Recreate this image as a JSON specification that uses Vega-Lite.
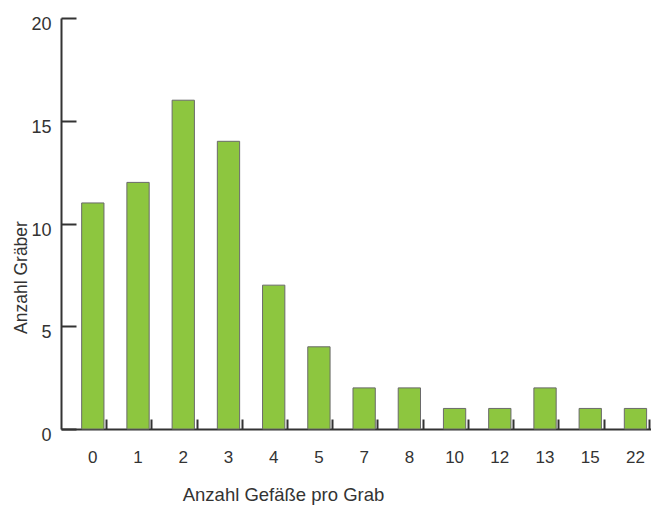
{
  "$schema": "https://vega.github.io/schema/vega-lite/v6.json",
  "autosize": {"type": "none"},
  "padding": {"left": 61, "top": 18, "right": 0, "bottom": 77},
  "width": 590,
  "height": 411,
  "background": "white",
  "config": {"view": {"stroke": null}, "font": "Liberation Sans"},
  "data": {
    "values": [
      {"gefaesse": "0", "graeber": 11},
      {"gefaesse": "1", "graeber": 12},
      {"gefaesse": "2", "graeber": 16},
      {"gefaesse": "3", "graeber": 14},
      {"gefaesse": "4", "graeber": 7},
      {"gefaesse": "5", "graeber": 4},
      {"gefaesse": "7", "graeber": 2},
      {"gefaesse": "8", "graeber": 2},
      {"gefaesse": "10", "graeber": 1},
      {"gefaesse": "12", "graeber": 1},
      {"gefaesse": "13", "graeber": 2},
      {"gefaesse": "15", "graeber": 1},
      {"gefaesse": "22", "graeber": 1}
    ]
  },
  "mark": {"type": "bar", "fill": "#8dc63f", "stroke": "#6a6a6a", "strokeWidth": 1},
  "encoding": {
    "x": {
      "field": "gefaesse",
      "type": "ordinal",
      "sort": null,
      "scale": {"paddingInner": 0.507, "paddingOuter": 0.277, "align": 0.825},
      "axis": {
        "title": "Anzahl Gefäße pro Grab",
        "titleFontSize": 18.5,
        "titleFontWeight": "normal",
        "titleColor": "#333333",
        "titleX": 222,
        "titleY": 71,
        "titleAlign": "center",
        "titleBaseline": "alphabetic",
        "labelAngle": 0,
        "labelFontSize": 17,
        "labelColor": "#333333",
        "labelPadding": 30,
        "labelBaseline": "top",
        "tickSize": -10,
        "tickWidth": 2,
        "tickColor": "#333333",
        "bandPosition": 1.12,
        "domainWidth": 2,
        "domainColor": "#333333",
        "grid": false
      }
    },
    "y": {
      "field": "graeber",
      "type": "quantitative",
      "scale": {"domain": [0, 20], "nice": false},
      "axis": {
        "title": "Anzahl Gräber",
        "titleFontSize": 17.5,
        "titleFontWeight": "normal",
        "titleColor": "#333333",
        "titleX": -35,
        "titleY": 259,
        "titleAngle": -90,
        "titleAlign": "center",
        "titleBaseline": "alphabetic",
        "values": [0, 5, 10, 15, 20],
        "labelFontSize": 18,
        "labelColor": "#333333",
        "labelPadding": 25,
        "labelBaseline": "top",
        "labelOffset": -2.5,
        "tickSize": -15,
        "tickWidth": 2,
        "tickColor": "#333333",
        "domainWidth": 2,
        "domainColor": "#333333",
        "grid": false
      }
    }
  }
}
